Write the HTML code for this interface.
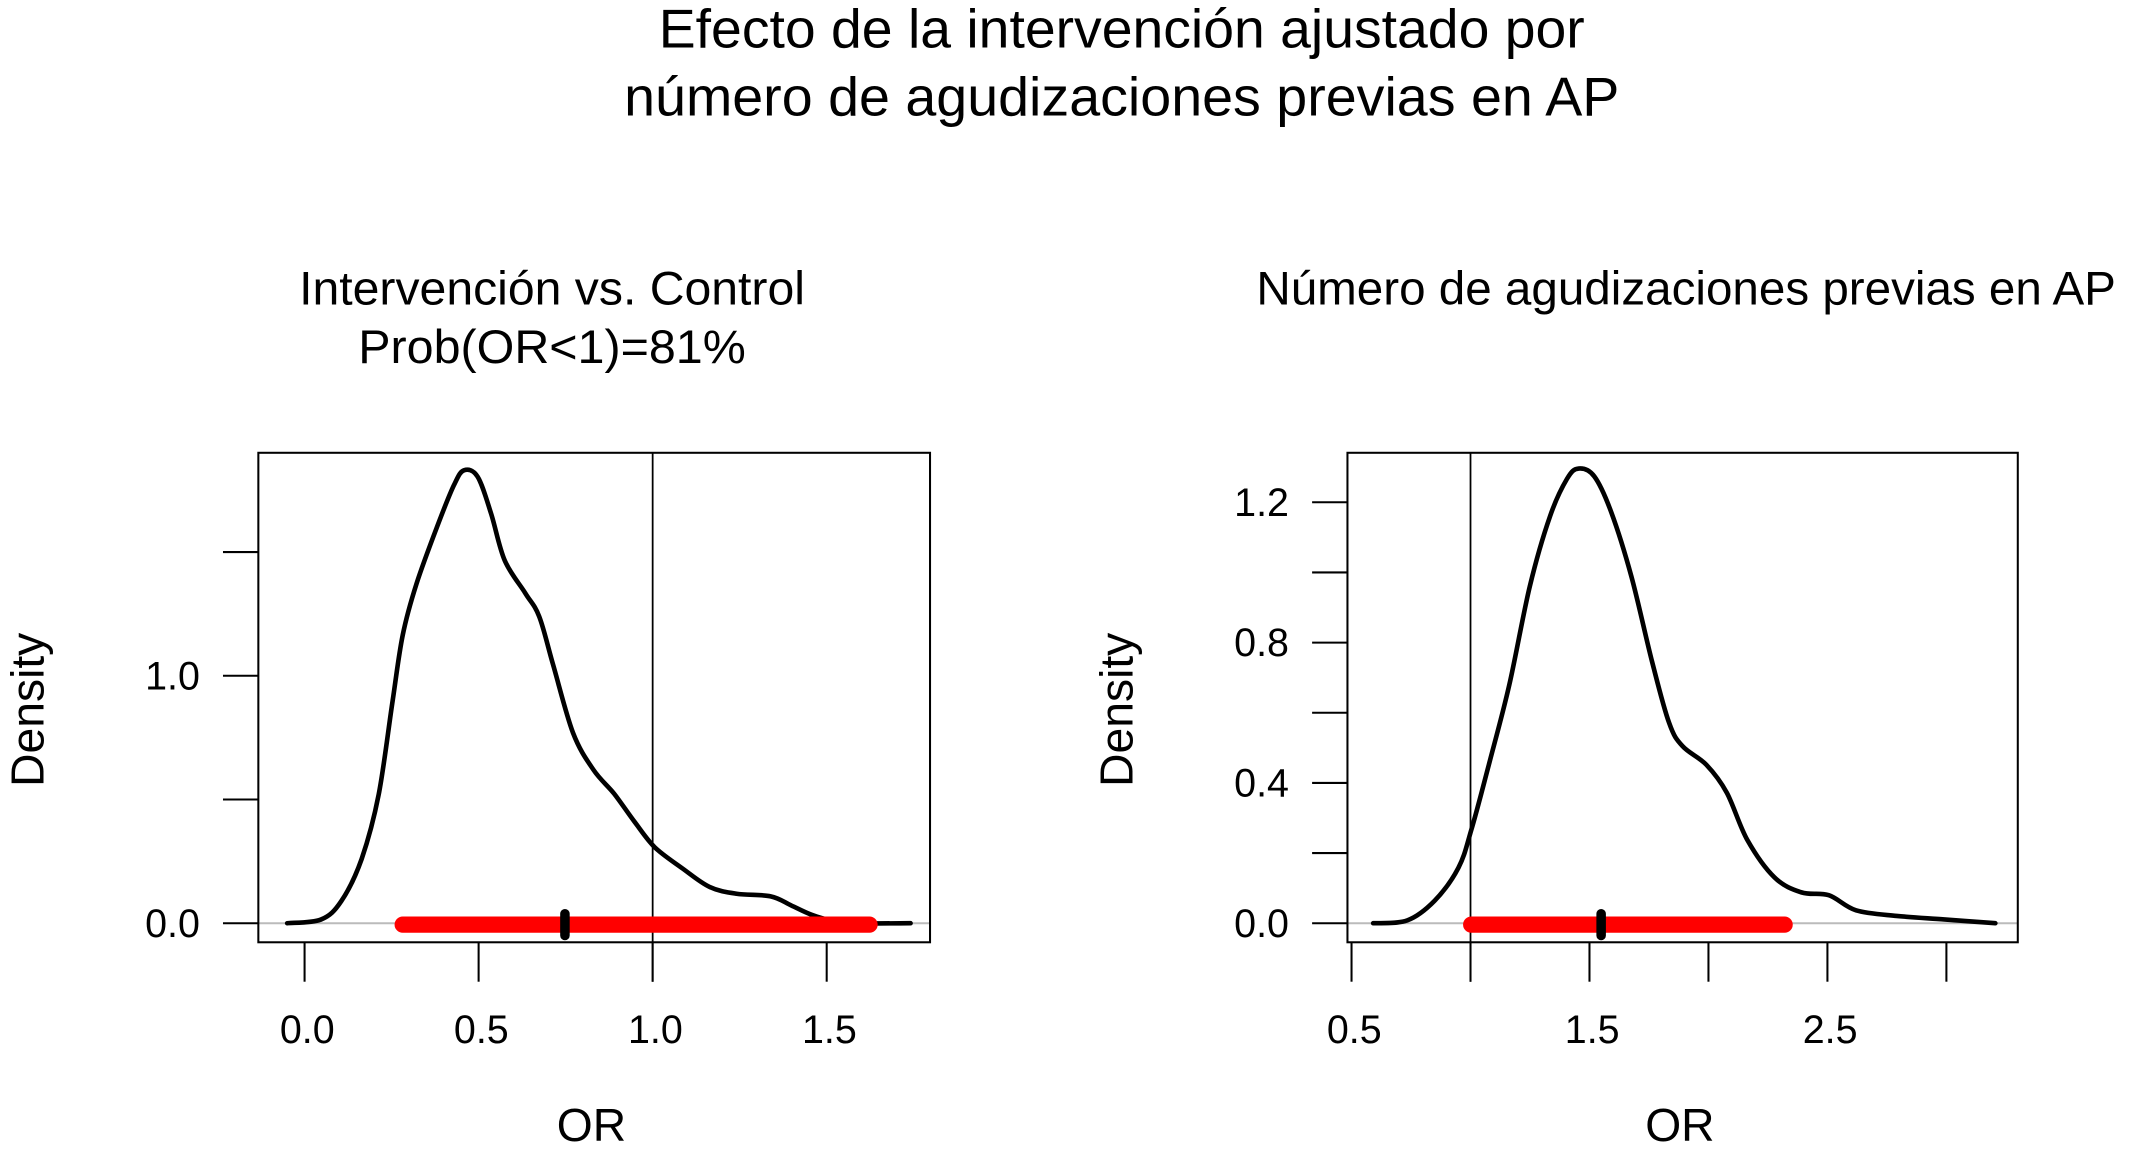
<!DOCTYPE html>
<html><head><meta charset="utf-8"><style>
html,body{margin:0;padding:0;background:#fff;overflow:hidden}
svg{display:block;font-family:"Liberation Sans",Arial,sans-serif}
</style></head><body>
<svg id="c" width="2132" height="1151" viewBox="0 0 1568 846.5" xmlns="http://www.w3.org/2000/svg">
<text x="825" y="35" font-size="40" text-anchor="middle" textLength="681" lengthAdjust="spacingAndGlyphs">Efecto de la intervención ajustado por</text>
<text x="825" y="85" font-size="40" text-anchor="middle" textLength="732" lengthAdjust="spacingAndGlyphs">número de agudizaciones previas en AP</text>
<text x="406" y="224" font-size="35" text-anchor="middle" textLength="372" lengthAdjust="spacingAndGlyphs">Intervención vs. Control</text>
<text x="406" y="267" font-size="35" text-anchor="middle" textLength="285" lengthAdjust="spacingAndGlyphs">Prob(OR&lt;1)=81%</text>
<text x="924" y="224" font-size="35">Número de agudizaciones previas en AP</text>
<g id="left"></g>
<g id="right"></g>
</svg>
<script>
const leftX=[-0.05,0.047,0.106,0.164,0.213,0.253,0.282,0.321,0.38,0.429,0.458,0.497,0.536,0.575,0.634,0.674,0.713,0.771,0.83,0.889,0.948,1.006,1.085,1.163,1.241,1.339,1.398,1.457,1.516,1.594,1.741];
const leftY=[0,0.015,0.09,0.26,0.52,0.9,1.165,1.37,1.6,1.77,1.83,1.805,1.655,1.466,1.334,1.24,1.05,0.77,0.62,0.524,0.41,0.307,0.222,0.147,0.119,0.109,0.072,0.034,0.011,0,0];
const leftInterval=[0.282,1.623];
const leftMedian=[0.748];
const leftXTicks=[0,0.5,1,1.5];
const leftXLabels=["0.0","0.5","1.0","1.5"];
const leftYTicks=[0,0.5,1,1.5];
const leftYLabels=["0.0","","1.0",""];

const rightX=[0.591,0.734,0.849,0.949,1.003,1.077,1.163,1.249,1.334,1.406,1.454,1.52,1.591,1.677,1.763,1.834,1.891,1.991,2.077,2.163,2.277,2.391,2.506,2.62,2.791,2.991,3.206];
const rightY=[0,0.008,0.064,0.158,0.265,0.452,0.679,0.96,1.16,1.267,1.296,1.274,1.173,0.986,0.746,0.572,0.505,0.452,0.372,0.238,0.131,0.088,0.08,0.037,0.021,0.011,0];
const rightInterval=[1.003,2.32];
const rightMedian=[1.549];
const rightXTicks=[0.5,1,1.5,2,2.5,3];
const rightXLabels=["0.5","","1.5","","2.5",""];
const rightYTicks=[0,0.2,0.4,0.6,0.8,1.0,1.2];
const rightYLabels=["0.0","","0.4","","0.8","","1.2"];

const NS="http://www.w3.org/2000/svg";
function mk(p,t,a){const e=document.createElementNS(NS,t);for(const k in a)e.setAttribute(k,a[k]);p.appendChild(e);return e;}
function smooth(P){
  let d='M'+P[0][0].toFixed(1)+','+P[0][1].toFixed(1);
  for(let i=0;i<P.length-1;i++){
    const p0=P[i-1]||P[i],p1=P[i],p2=P[i+1],p3=P[i+2]||p2;
    const c1=[p1[0]+(p2[0]-p0[0])/6,p1[1]+(p2[1]-p0[1])/6];
    const c2=[p2[0]-(p3[0]-p1[0])/6,p2[1]-(p3[1]-p1[1])/6];
    d+=' C'+c1.map(v=>v.toFixed(1))+' '+c2.map(v=>v.toFixed(1))+' '+p2.map(v=>v.toFixed(1));
  }
  return d;
}
function panel(g,cfg){
  const sx=v=>cfg.x0px+(v-cfg.x0)*cfg.xs;
  const sy=v=>679-v*cfg.ys;
  const b=cfg.box;
  let e;
  e=mk(g,'line',{x1:b[0],x2:b[1],y1:sy(0),y2:sy(0),stroke:'#bbb','stroke-width':1.5});
  
  
  e=mk(g,'line',{x1:sx(1),x2:sx(1),y1:b[2],y2:722,stroke:'#000','stroke-width':1.3});
  
  
  const P=cfg.xs_.map((v,i)=>[sx(v),sy(cfg.ys_[i])]);
  e=mk(g,'path',{d:smooth(P),fill:'none',stroke:'#000','stroke-width':3.4,'stroke-linejoin':'round','stroke-linecap':'round'});
  
  
  e=mk(g,'line',{x1:sx(cfg.iv[0]),x2:sx(cfg.iv[1]),y1:sy(0)+1,y2:sy(0)+1,stroke:'#f00','stroke-width':12,'stroke-linecap':'round'});
  
  
  e=mk(g,'line',{x1:sx(cfg.med[0]),x2:sx(cfg.med[0]),y1:sy(0)-7,y2:sy(0)+9,stroke:'#000','stroke-width':7,'stroke-linecap':'round'});
  
  
  e=mk(g,'rect',{x:b[0],y:b[2],width:b[1]-b[0],height:b[3]-b[2],fill:'none',stroke:'#000','stroke-width':1.5});
  
  
  cfg.xt.forEach((v,i)=>{
    e=mk(g,'line',{x1:sx(v),x2:sx(v),y1:b[3],y2:722,stroke:'#000','stroke-width':1.5});
    
    
    if(cfg.xl[i]){
      e=mk(g,'text',{x:sx(v)+2,y:767,'font-size':29,'text-anchor':'middle'});e.textContent=cfg.xl[i];
      
      
    }
  });
  cfg.yt.forEach((v,i)=>{
    e=mk(g,'line',{x1:b[0]-26,x2:b[0],y1:sy(v),y2:sy(v),stroke:'#000','stroke-width':1.5});
    
    
    if(cfg.yl[i]){
      e=mk(g,'text',{x:b[0]-43,y:sy(v)+10,'font-size':29,'text-anchor':'end'});e.textContent=cfg.yl[i];
      
      
    }
  });
  e=mk(g,'text',{x:(b[0]+b[1])/2-2,y:839,'font-size':34,'text-anchor':'middle'});e.textContent='OR';
  
  
  e=mk(g,'text',{x:0,y:0,'font-size':34,'text-anchor':'middle',transform:`translate(${b[0]-158},522) rotate(-90)`});e.textContent='Density';
  
  
}
panel(document.getElementById('left'),{box:[190,684,333,693],x0:0,x0px:224,xs:256,ys:182,xs_:leftX,ys_:leftY,iv:leftInterval,med:leftMedian,xt:leftXTicks,xl:leftXLabels,yt:leftYTicks,yl:leftYLabels});
panel(document.getElementById('right'),{box:[991,1484,333,693],x0:0.5,x0px:994,xs:175,ys:258,xs_:rightX,ys_:rightY,iv:rightInterval,med:rightMedian,xt:rightXTicks,xl:rightXLabels,yt:rightYTicks,yl:rightYLabels});
</script>
</body></html>
